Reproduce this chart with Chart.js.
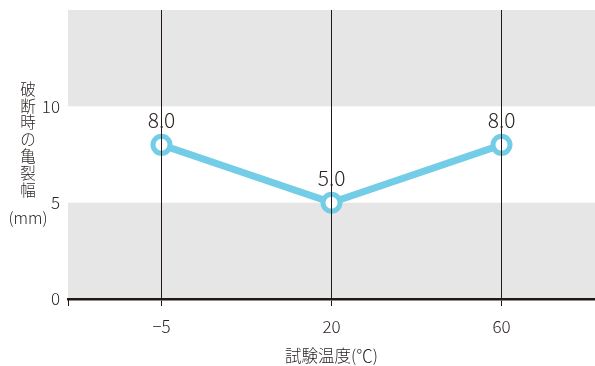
<!DOCTYPE html>
<html>
<head>
<meta charset="utf-8">
<script src="https://cdn.jsdelivr.net/npm/chart.js@4"></script>
<style>
  html, body { margin: 0; padding: 0; background: #fff; }
  #wrap { width: 595px; height: 366px; position: relative; }
</style>
</head>
<body>
<div id="wrap"><canvas id="crackChart" width="595" height="366"></canvas></div>
<script>
// Data
const temps = ['\u22125', '20', '60'];
const crackWidth = [8.0, 5.0, 8.0];
const yTicks = [0, 5, 10];
const bands = [[0, 5], [10, 15]];
const yTitleChars = ['破', '断', '時', 'の', '亀', '裂', '幅'];
const yTitleUnit = '(mm)';
const xTitle = '試験温度(℃)';

const ink = '#231815';
const textCol = '#2b2523';
const lineBlue = '#74cde6';
const font = '"Noto Sans CJK JP", "Noto Sans", sans-serif';

// grey bands + axis decorations + value labels
const decor = {
  id: 'decor',
  beforeDatasetsDraw(chart) {
    const { ctx, chartArea: a, scales: { y } } = chart;
    ctx.save();
    ctx.fillStyle = '#e6e6e6';
    bands.forEach(([lo, hi]) => {
      const top = y.getPixelForValue(hi), bot = y.getPixelForValue(lo);
      ctx.fillRect(a.left, top, a.right - a.left, bot - top);
    });
    ctx.restore();
  },
  afterDraw(chart) {
    const { ctx, chartArea: a, scales: { x, y } } = chart;
    ctx.save();
    // small tick at left end of x axis
    ctx.strokeStyle = ink;
    ctx.lineWidth = 1;
    ctx.beginPath();
    ctx.moveTo(a.left + 0.5, a.bottom);
    ctx.lineTo(a.left + 0.5, a.bottom + 7);
    ctx.stroke();
    // value labels
    ctx.fillStyle = textCol;
    ctx.font = '300 21px ' + font;
    ctx.textAlign = 'center';
    ctx.textBaseline = 'middle';
    crackWidth.forEach((v, i) => {
      ctx.fillText(v.toFixed(1), x.getPixelForValue(i), y.getPixelForValue(v) - 25);
    });
    // y title, vertical
    ctx.font = '300 15.5px ' + font;
    yTitleChars.forEach((c, i) => {
      ctx.fillText(c, 28, 89 + i * 16.8);
    });
    ctx.font = '300 16px ' + font;
    ctx.fillText(yTitleUnit, 28, 218);
    ctx.restore();
  }
};

function noPad(s) {
  s.paddingTop = 0; s.paddingBottom = 0; s.paddingLeft = 0; s.paddingRight = 0;
}

new Chart(document.getElementById('crackChart'), {
  type: 'line',
  data: {
    datasets: [{
      data: crackWidth.map((v, i) => ({ x: i, y: v })),
      borderColor: lineBlue,
      borderWidth: 7,
      pointRadius: 8.5,
      pointBorderWidth: 5,
      pointBackgroundColor: '#fff',
      pointBorderColor: lineBlue,
      tension: 0
    }]
  },
  options: {
    responsive: false,
    animation: false,
    layout: { autoPadding: false, padding: { top: 10, right: 0, left: 0, bottom: 0 } },
    plugins: { legend: { display: false }, tooltip: { enabled: false } },
    scales: {
      x: {
        type: 'linear',
        min: -0.55,
        max: 2.55,
        afterBuildTicks(s) { s.ticks = temps.map((t, i) => ({ value: i })); },
        afterFit(s) { s.height = 67; noPad(s); },
        grid: { color: ink, lineWidth: 1, tickLength: 7, drawOnChartArea: true, z: 1 },
        border: { color: ink, width: 2.5, z: 1 },
        ticks: {
          color: textCol,
          font: { family: font, size: 17, weight: 300 },
          padding: 10,
          maxRotation: 0,
          callback: (v) => temps[v]
        },
        title: {
          display: true,
          text: xTitle,
          color: textCol,
          font: { family: font, size: 16.5, weight: 300 },
          padding: { top: 2, bottom: 0 }
        }
      },
      y: {
        min: 0,
        max: 15,
        afterBuildTicks(s) { s.ticks = yTicks.map(v => ({ value: v })); },
        afterFit(s) { s.width = 68; noPad(s); },
        grid: { display: false },
        border: { display: false },
        ticks: {
          color: textCol,
          font: { family: font, size: 17, weight: 300 },
          padding: 0
        }
      }
    }
  },
  plugins: [decor]
});
</script>
</body>
</html>
